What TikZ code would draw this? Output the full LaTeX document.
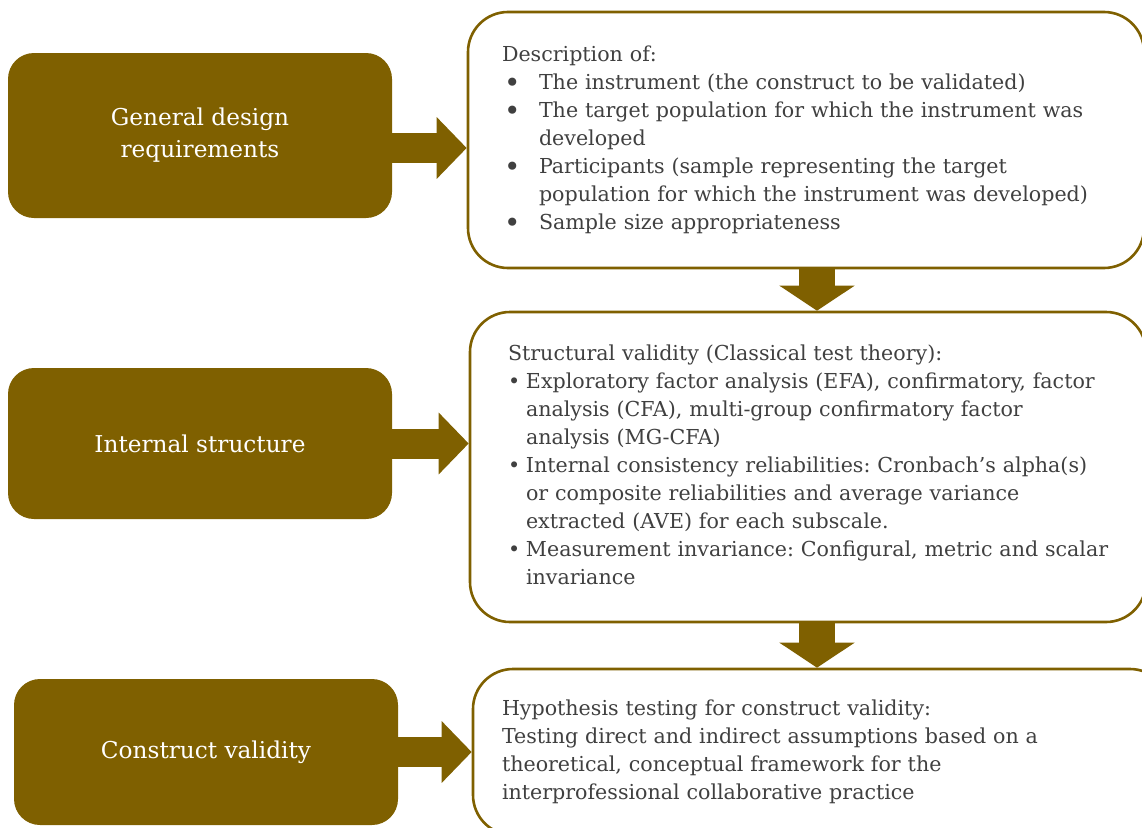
\documentclass[tikz,border=0pt]{standalone}
\usepackage{fontspec}
\setmainfont{DejaVu Serif}
\usepackage{array}
\usetikzlibrary{arrows.meta}
\definecolor{olivebrown}{HTML}{7F6000}
\definecolor{bodygray}{HTML}{404040}
\newcommand{\bigbul}{\hspace*{2pt}\raisebox{-3.2pt}{\smash{\scalebox{1.35}{\textbullet}}}}
\newcommand{\smallbul}{\hspace*{0pt}\textbullet}
\frenchspacing

\begin{document}
\begin{tikzpicture}[
  x=1pt, y=1pt,
  stage/.style={
    rectangle, rounded corners=26pt, fill=olivebrown,
    text=white, align=center, minimum width=384pt,
    font=\fontsize{23.2}{32}\selectfont
  },
  detail/.style={
    rectangle, rounded corners=40pt, draw=olivebrown, line width=2.6pt,
    fill=white, text=bodygray, align=left,
    font=\fontsize{20.6}{28}\selectfont\frenchspacing
  },
  flow/.style={
    draw=olivebrown, line width=30pt,
    -{Triangle[length=30pt, width=60pt]}
  },
  downflow/.style={
    draw=olivebrown, line width=36pt,
    -{Triangle[length=25pt, width=74pt]}
  }
]
  \useasboundingbox (0,0) rectangle (1142,-827);

  \node[stage, minimum height=165pt] (gdr) at (200,-135.5) {General design\\requirements};
  \node[stage, minimum height=151pt] (inner) at (200,-443.5) {Internal structure};
  \node[stage, minimum height=146pt] (cval) at (206,-752) {Construct validity};

  \node[detail, text width=608pt, inner xsep=34pt, minimum height=256pt] (desc) at (806,-140) {%
    \begin{tabular}{@{}p{37pt}@{}l@{}}
      \multicolumn{2}{@{}l@{}}{Description of:}\\
      \bigbul & The instrument (the construct to be validated)\\
      \bigbul & The target population for which the instrument was\\
       & developed\\
      \bigbul & Participants (sample representing the target\\
       & population for which the instrument was developed)\\
      \bigbul & Sample size appropriateness
    \end{tabular}};
  \node[detail, text width=600pt, inner xsep=38pt, minimum height=310pt] (struct) at (808,-467) {%
    \begin{tabular}{@{}p{18pt}@{}l@{}}
      \multicolumn{2}{@{}l@{}}{Structural validity (Classical test theory):}\\
      \smallbul & Exploratory factor analysis (EFA), confirmatory, factor\\
       & analysis (CFA), multi-group confirmatory factor\\
       & analysis (MG-CFA)\\
      \smallbul & Internal consistency reliabilities: Cronbach’s alpha(s)\\
       & or composite reliabilities and average variance\\
       & extracted (AVE) for each subscale.\\
      \smallbul & Measurement invariance: Configural, metric and scalar\\
       & invariance
    \end{tabular}};
  \node[detail, text width=639pt, inner xsep=29pt, minimum height=166pt] (hyp) at (821.5,-752) {%
    Hypothesis testing for construct validity:\\
    Testing direct and indirect assumptions based on a\\
    theoretical, conceptual framework for the\\
    interprofessional collaborative practice};

  \coordinate (a1) at (0,-148);
  \coordinate (dx) at (817,0);
  \draw[flow] (gdr.east |- a1) -- (desc.west |- a1);
  \draw[flow] (inner.east) -- (struct.west |- inner.east);
  \draw[flow] (cval.east) -- (hyp.west |- cval.east);
  \draw[downflow] (desc.south -| dx) -- (struct.north -| dx);
  \draw[downflow] (struct.south -| dx) -- (hyp.north -| dx);
\end{tikzpicture}
\end{document}
